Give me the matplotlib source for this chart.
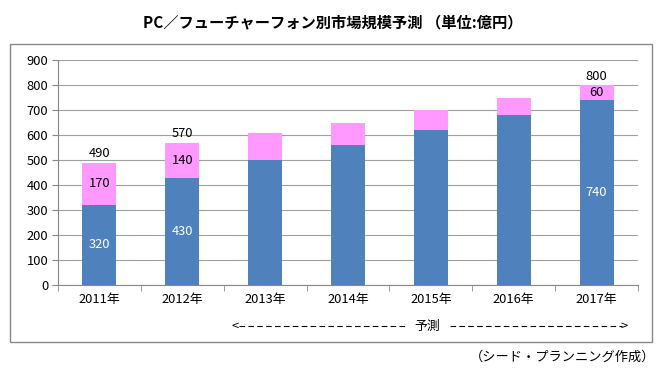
import matplotlib
matplotlib.use("Agg")
import matplotlib.pyplot as plt
from matplotlib.patches import Rectangle
from matplotlib.lines import Line2D

plt.rcParams['font.family'] = ['Noto Sans CJK JP', 'DejaVu Sans']

categories = ["2011年", "2012年", "2013年", "2014年", "2015年", "2016年", "2017年"]
pc = [320, 430, 500, 560, 620, 680, 740]
feature = [170, 140, 110, 90, 80, 70, 60]
pc_labels = ["320", "430", "", "", "", "", "740"]
fp_labels = ["170", "140", "", "", "", "", "60"]
total_labels = ["490", "570", "", "", "", "", "800"]
yticks = [0, 100, 200, 300, 400, 500, 600, 700, 800, 900]

fig = plt.figure(figsize=(6.68, 3.81), dpi=100)
fig.patch.set_facecolor("white")

# outer chart frame
fig.patches.append(Rectangle((10/668, 1-342/381), (652-10)/668, (342-44)/381,
                             transform=fig.transFigure, fill=False,
                             edgecolor="#888888", linewidth=1.0))

ax = fig.add_axes([58/668, 1-285/381, (638-58)/668, (285-60)/381])
x = list(range(len(categories)))
w = 0.41
ax.bar(x, pc, width=w, color="#4F81BD", zorder=3)
ax.bar(x, feature, width=w, bottom=pc, color="#FF99FF", zorder=3)

fs = 9.3
for i in x:
    if pc_labels[i]:
        ax.text(i, pc[i] / 2, pc_labels[i], ha="center", va="center",
                color="white", fontsize=fs, zorder=4)
    if fp_labels[i]:
        ax.text(i, pc[i] + feature[i] / 2, fp_labels[i], ha="center", va="center",
                color="black", fontsize=fs, zorder=4)
    if total_labels[i]:
        ax.text(i, pc[i] + feature[i] + 10, total_labels[i], ha="center", va="bottom",
                color="black", fontsize=fs, zorder=4)

ax.set_xlim(-0.5, len(categories) - 0.5)
ax.set_ylim(0, 900)
ax.set_yticks(yticks)
ax.set_yticklabels([str(v) for v in yticks], fontsize=fs)
ax.set_xticks(x)
ax.set_xticklabels(categories, fontsize=fs)
ax.set_xticks([i - 0.5 for i in range(len(categories) + 1)], minor=True)
ax.yaxis.grid(True, color="#A0A0A0", linewidth=0.8, zorder=0)
ax.set_axisbelow(True)
for s in ["top", "right"]:
    ax.spines[s].set_visible(False)
ax.spines["left"].set_color("#888888")
ax.spines["bottom"].set_color("#888888")
ax.tick_params(axis="y", length=4, color="#888888", pad=3)
ax.tick_params(axis="x", which="major", length=0, pad=6)
ax.tick_params(axis="x", which="minor", length=4, color="#888888")

fig.text(333/668, 1-22/381, "PC／フューチャーフォン別市場規模予測 （単位:億円）",
         ha="center", va="center", fontsize=11, fontweight="bold")

# forecast span annotation
yf = 1 - 326/381
fig.text(232/668, yf, "<", ha="left", va="center", fontsize=fs)
fig.text(628/668, yf, ">", ha="right", va="center", fontsize=fs)
fig.text(427/668, yf, "予測", ha="center", va="center", fontsize=fs)
for (a, b) in [(239, 405), (450, 622)]:
    fig.lines.append(Line2D([a/668, b/668], [yf, yf], transform=fig.transFigure,
                            color="black", linewidth=0.8, dashes=(5, 3)))

fig.text(655/668, 1-357/381, "（シード・プランニング作成）",
         ha="right", va="center", fontsize=9.5)

fig.savefig("out.png", dpi=100)
